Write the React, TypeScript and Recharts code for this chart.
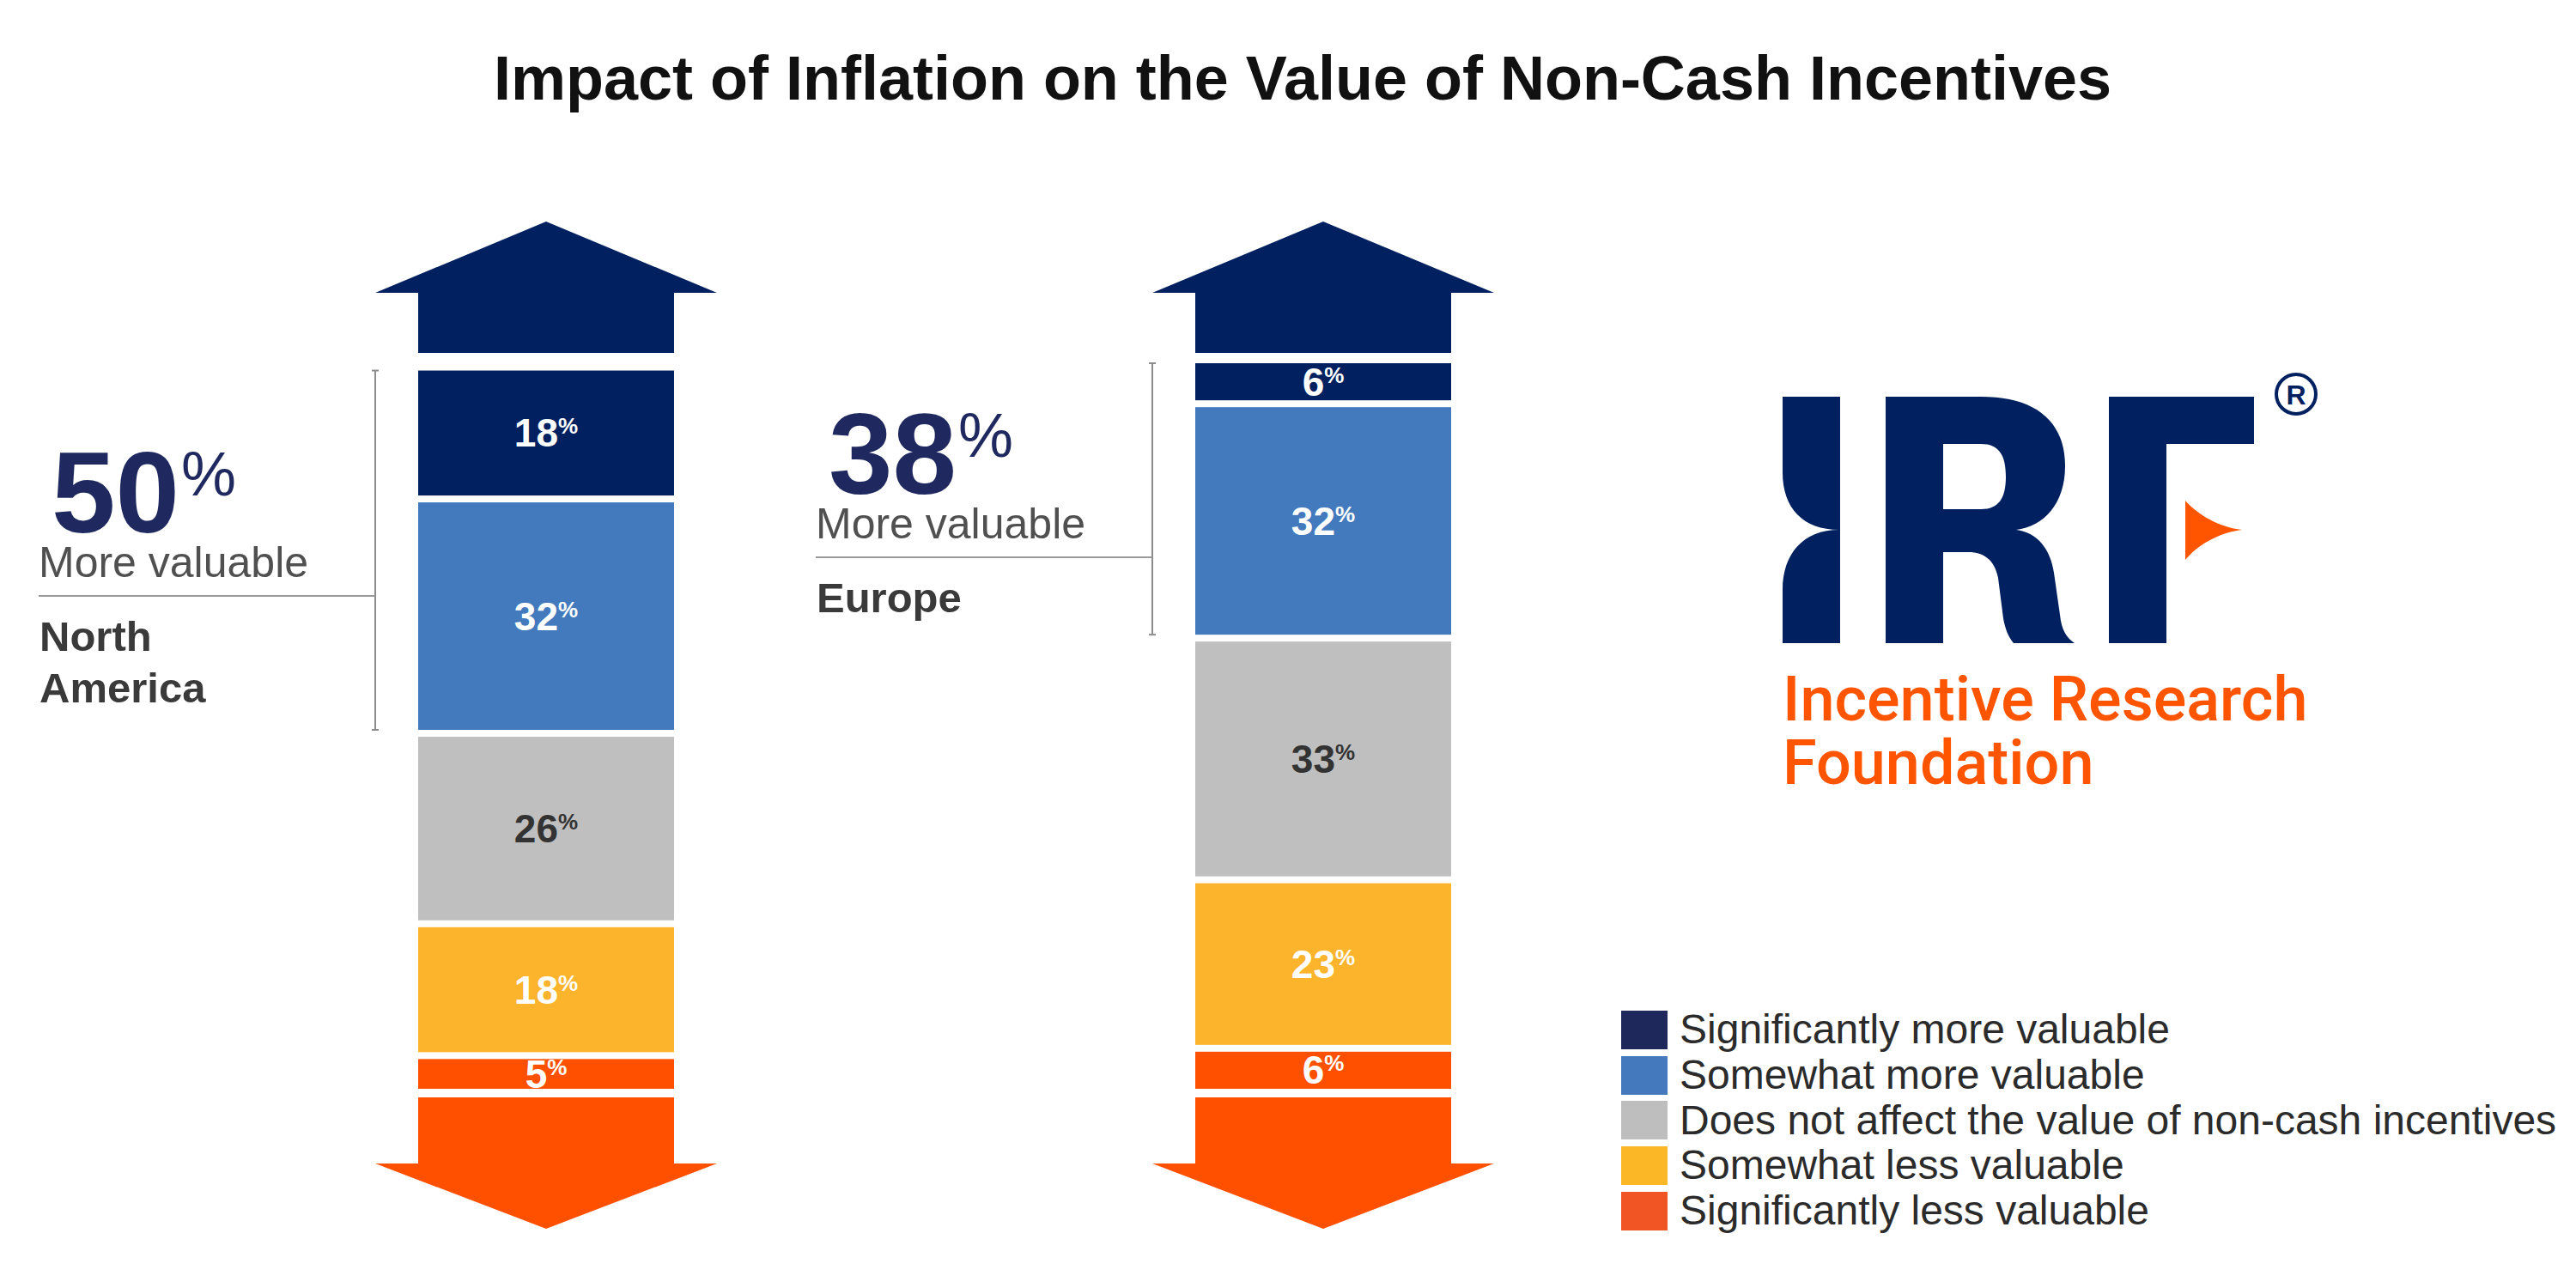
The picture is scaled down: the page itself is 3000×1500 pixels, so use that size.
import React from "react";
import { BarChart, Bar, XAxis, YAxis, Legend } from "recharts";

const FONT = "'Liberation Sans', Arial, Helvetica, sans-serif";

// data (percent of respondents)
const regions = ["North America", "Europe"];
const regionLines = [["North", "America"], ["Europe"]];
const significantlyMore = [18, 6];
const somewhatMore = [32, 32];
const noEffect = [26, 33];
const somewhatLess = [18, 23];
const significantlyLess = [5, 6];

// stack order is bottom -> top
const seriesKeys = ["significantlyLess", "somewhatLess", "noEffect", "somewhatMore", "significantlyMore"];
const seriesNames = [
  "Significantly less valuable",
  "Somewhat less valuable",
  "Does not affect the value of non-cash incentives",
  "Somewhat more valuable",
  "Significantly more valuable",
];
const seriesColors = ["#ff5000", "#fbb42b", "#bfbfbf", "#437abd", "#00205f"];
const legendColors = ["#f05523", "#fbb726", "#bebebe", "#4479be", "#1e285a"];
const labelColors = ["#fff", "#fff", "#333", "#fff", "#fff"];

// layout only
const GAP = 4;
const annotationDrop = [275, 230];

const data = regions.map((region, i) => ({
  region,
  significantlyLess: significantlyLess[i],
  somewhatLess: somewhatLess[i],
  noEffect: noEffect[i],
  somewhatMore: somewhatMore[i],
  significantlyMore: significantlyMore[i],
}));

function Segment({ x, y, width, height, fill, value, labelColor }: any) {
  const h = Math.max(0, height - 2 * GAP);
  return (
    <g>
      <rect x={x} y={y + GAP} width={width} height={h} fill={fill} />
      <text
        x={x + width / 2}
        y={y + height / 2 + 16}
        textAnchor="middle"
        fontFamily={FONT}
        fontSize={46}
        fontWeight={700}
        fill={labelColor}
      >
        {value}
        <tspan fontSize={26} dy={-15}>%</tspan>
      </text>
    </g>
  );
}

function regionIndex(props: any) {
  if (typeof props.index === "number") return props.index;
  return Math.max(0, regions.indexOf(props.payload?.region));
}

function BottomSegment(props: any) {
  const { x, y, width, height, fill, background } = props;
  const plotBottom = background && typeof background.y === "number" ? background.y + background.height : y + height;
  const left = x;
  const right = x + width;
  const cx = x + width / 2;
  const bodyTop = plotBottom + 6;
  const wingY = bodyTop + 77;
  const tipY = wingY + 76;
  const d = `M${left},${bodyTop}V${wingY}H${left - 50}L${cx},${tipY}L${right + 50},${wingY}H${right}V${bodyTop}Z`;
  return (
    <g>
      <path d={d} fill={fill} />
      <Segment {...props} value={props.payload.significantlyLess} labelColor={labelColors[0]} />
    </g>
  );
}

function TopSegment(props: any) {
  const { x, y, width, height, fill, payload, background } = props;
  const i = regionIndex(props);
  const plotTop = background && typeof background.y === "number" ? background.y : y;
  const left = x;
  const right = x + width;
  const cx = x + width / 2;
  const bodyBottom = plotTop - 8;
  const wingY = bodyBottom - 70;
  const tipY = wingY - 83;
  const arrow = `M${left},${bodyBottom}V${wingY}H${left - 50}L${cx},${tipY}L${right + 50},${wingY}H${right}V${bodyBottom}Z`;

  // bracket over the two "more valuable" segments
  const unit = height / payload.significantlyMore;
  const moreTotal = payload.significantlyMore + payload.somewhatMore;
  const bTop = y + GAP;
  const bBottom = y + height + payload.somewhatMore * unit - GAP;
  const bx = left - 50;
  const lineY = plotTop + annotationDrop[i];
  const lineLeft = bx - 392;

  return (
    <g>
      <path d={arrow} fill={fill} />
      <Segment {...props} value={payload.significantlyMore} labelColor={labelColors[4]} />
      <g stroke="#8c8c8c" strokeWidth={2} fill="none">
        <line x1={bx} y1={bTop} x2={bx} y2={bBottom} />
        <line x1={bx - 4} y1={bTop} x2={bx + 4} y2={bTop} />
        <line x1={bx - 4} y1={bBottom} x2={bx + 4} y2={bBottom} />
        <line x1={lineLeft} y1={lineY} x2={bx} y2={lineY} stroke="#9a9a9a" />
      </g>
      <text x={lineLeft + 15} y={lineY - 74} fontFamily={FONT} fontSize={134} fontWeight={700} fill="#1f295f">
        {moreTotal}
        <tspan fontSize={72} fontWeight={400} dx={2} dy={-43}>%</tspan>
      </text>
      <text x={lineLeft} y={lineY - 22} fontFamily={FONT} fontSize={50} fill="#505050">
        More valuable
      </text>
      <text x={lineLeft + 1} y={lineY + 64} fontFamily={FONT} fontSize={49} fontWeight={700} fill="#3a3a3a">
        {regionLines[i].map((l, j) => (
          <tspan key={j} x={lineLeft + 1} dy={j === 0 ? 0 : 60}>
            {l}
          </tspan>
        ))}
      </text>
    </g>
  );
}

function renderShape(key: string, idx: number) {
  if (idx === 0) return (p: any) => <BottomSegment {...p} />;
  if (idx === seriesKeys.length - 1) return (p: any) => <TopSegment {...p} />;
  return (p: any) => <Segment {...p} value={p.payload[key]} labelColor={labelColors[idx]} />;
}

function LegendBox({ payload }: any) {
  const order = seriesKeys.map((k, i) => i).reverse();
  return (
    <div style={{ fontFamily: FONT }}>
      {order.map((i) => {
        const item = (payload || []).find((p: any) => p.dataKey === seriesKeys[i]);
        return (
          <div key={i} style={{ display: "flex", alignItems: "center", height: 52.7 }}>
            <div style={{ width: 54, height: 45, background: legendColors[i], flex: "none" }} />
            <span style={{ marginLeft: 14, fontSize: 48, lineHeight: "48px", color: "#2b2b2b", whiteSpace: "nowrap" }}>
              {item?.value ?? seriesNames[i]}
            </span>
          </div>
        );
      })}
    </div>
  );
}

function Overlay() {
  return (
    <svg
      width={3000}
      height={1500}
      style={{ position: "absolute", left: 0, top: 0, pointerEvents: "none" }}
    >
      <text x={1517} y={116} textAnchor="middle" fontFamily={FONT} fontSize={72} fontWeight={700} fill="#111">
        Impact of Inflation on the Value of Non-Cash Incentives
      </text>
      {/* IRF logo */}
      <g fill="#00205f">
        <path d="M2076,462 H2143 V749 H2076 V687 C2076,645 2100,617 2142,617 C2100,617 2076,592 2076,550 Z" />
        <path
          fillRule="evenodd"
          d="M2196,462 H2307 C2370,462 2405,490 2405,543 C2405,587 2380,613 2348,617 C2373,620 2388,640 2392,667 L2400,723 C2403,738 2409,744 2416,749 H2345 C2339,742 2335,732 2333,720 L2327,673 C2323,652 2310,643 2293,643 H2263 V749 H2196 Z M2263,517 H2307 C2328,517 2336,530 2336,555 C2336,580 2328,593 2307,593 H2263 Z"
        />
        <path d="M2456,462 H2625 V517 H2523 V749 H2456 Z" />
      </g>
      <path d="M2545,583 C2560,600 2585,614 2611,617 C2585,620 2560,634 2545,652 Z" fill="#ff5500" />
      <circle cx={2674} cy={459} r={23} fill="none" stroke="#00205f" strokeWidth={4} />
      <text x={2674} y={471} textAnchor="middle" fontFamily={FONT} fontSize={32} fontWeight={700} fill="#00205f">
        R
      </text>
      <text x={2076} y={839} fontFamily="Roboto, 'Liberation Sans', sans-serif" fontSize={72} fontWeight={500} fill="#ff5500">
        Incentive Research
      </text>
      <text x={2076} y={913} fontFamily="Roboto, 'Liberation Sans', sans-serif" fontSize={72} fontWeight={500} fill="#ff5500">
        Foundation
      </text>
    </svg>
  );
}

export default function App() {
  return (
    <div style={{ position: "absolute", left: 0, top: 0, width: 3000, height: 1500, background: "#fff" }}>
      <BarChart
        width={3000}
        height={1500}
        data={data}
        margin={{ top: 419, right: 1007, bottom: 228, left: 183 }}
        barSize={298}
      >
        <XAxis dataKey="region" hide />
        <YAxis hide domain={[0, 100]} />
        {seriesKeys.map((k, i) => (
          <Bar
            key={k}
            dataKey={k}
            name={seriesNames[i]}
            stackId="s"
            fill={seriesColors[i]}
            isAnimationActive={false}
            shape={renderShape(k, i)}
          />
        ))}
        <Legend
          layout="vertical"
          align="center"
          verticalAlign="middle"
          wrapperStyle={{ left: 1888, top: 1173, width: 1110, height: 270 }}
          content={(p: any) => <LegendBox payload={p.payload} />}
        />
      </BarChart>
      <Overlay />
    </div>
  );
}
